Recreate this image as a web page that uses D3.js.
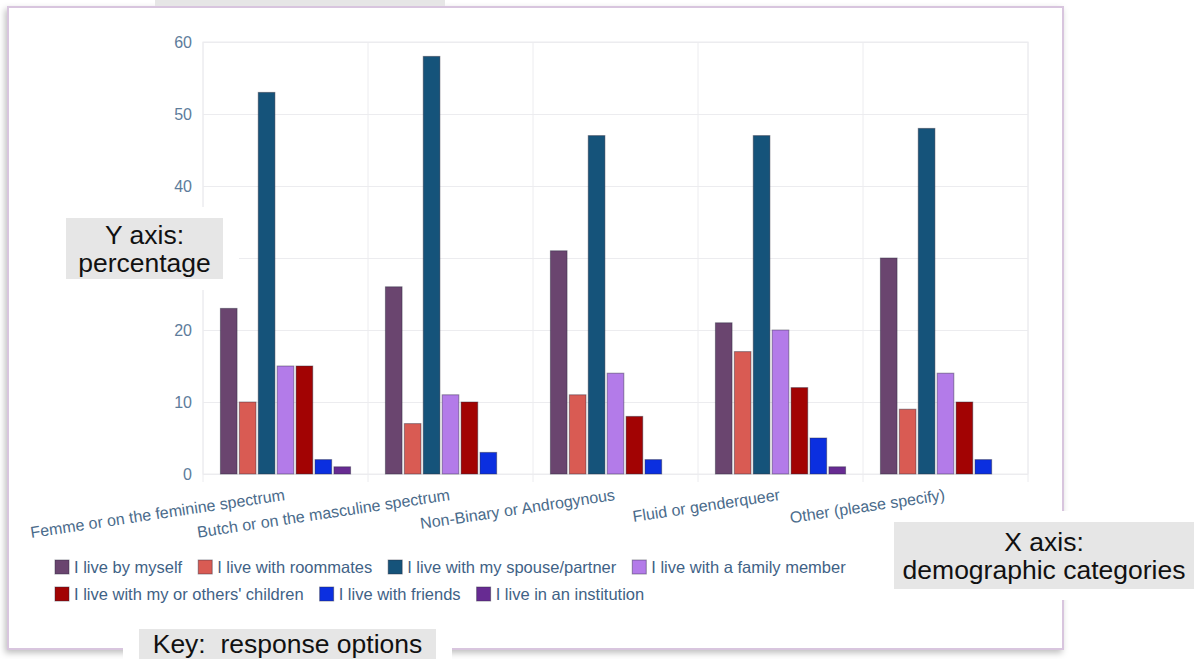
<!DOCTYPE html>
<html>
<head>
<meta charset="utf-8">
<script src="https://cdn.jsdelivr.net/npm/d3@7"></script>
<style>
  body { margin: 0; background: #fff; }
  svg { display: block; font-family: "Liberation Sans", Arial, Helvetica, sans-serif; }
  .grid line { stroke: #ececef; }
  .grid path { display: none; }
  .y.axis path { display: none; }
  .y.axis text { fill: #5d7c9b; font-size: 16px; }
  .xlabel { fill: #4a6b8b; font-size: 16px; }
  .legend text { fill: #3f6286; font-size: 16.5px; }
  .note text { fill: #111; font-size: 26.5px; white-space: pre; }
</style>
</head>
<body>
<div id="chart"></div>
<script>
// Living arrangements by gender identity, percent of respondents

var categories = ["Femme or on the feminine spectrum", "Butch or on the masculine spectrum",
                  "Non-Binary or Androgynous", "Fluid or genderqueer", "Other (please specify)"];

var seriesNames = ["I live by myself", "I live with roommates", "I live with my spouse/partner",
                   "I live with a family member", "I live with my or others' children",
                   "I live with friends", "I live in an institution"];

// one array per response option, in category order
var byMyself    = [23, 26, 31, 21, 30];
var roommates   = [10,  7, 11, 17,  9];
var spouse      = [53, 58, 47, 47, 48];
var family      = [15, 11, 14, 20, 14];
var children    = [15, 10,  8, 12, 10];
var friends     = [ 2,  3,  2,  5,  2];
var institution = [ 1,  0,  0,  1,  0];

var yTicks = [0, 10, 20, 30, 40, 50, 60];

var seriesValues = [byMyself, roommates, spouse, family, children, friends, institution];
var colors = ["#6a456f", "#d95b53", "#15537a", "#b37be9", "#a20303", "#0b2fe0", "#672b92"];

var width = 1194, height = 659;
var margin = {left: 203, right: 166, top: 42, bottom: 185};
var innerWidth = width - margin.left - margin.right;
var innerHeight = height - margin.top - margin.bottom;

var svg = d3.select("#chart").append("svg")
    .attr("width", width)
    .attr("height", height);

// shadow for the card
var defs = svg.append("defs");
var shadow = defs.append("filter").attr("id", "shadow")
    .attr("x", "-5%").attr("y", "-5%").attr("width", "110%").attr("height", "110%");
shadow.append("feDropShadow")
    .attr("dx", -2).attr("dy", 3).attr("stdDeviation", 3)
    .attr("flood-color", "#000").attr("flood-opacity", 0.25);

svg.append("rect")
    .attr("x", 8).attr("y", 7)
    .attr("width", 1055).attr("height", 642)
    .attr("fill", "#fff")
    .attr("stroke", "#d8c5de")
    .attr("stroke-width", 2)
    .attr("filter", "url(#shadow)");

// Scales
var x0 = d3.scaleBand()
    .domain(categories)
    .range([0, innerWidth])
    .padding(0);

var x1 = d3.scaleBand()
    .domain(d3.range(seriesNames.length))
    .range([0, x0.bandwidth()])
    .paddingInner(0.12)
    .paddingOuter(0.92);

var y = d3.scaleLinear()
    .domain([0, 60])
    .range([innerHeight, 0]);

var g = svg.append("g")
    .attr("transform", "translate(" + margin.left + "," + margin.top + ")");

// plot frame
g.append("rect")
    .attr("width", innerWidth).attr("height", innerHeight)
    .attr("fill", "none")
    .attr("stroke", "#ececef");

// horizontal gridlines
g.append("g").attr("class", "grid")
    .call(d3.axisLeft(y).tickValues(yTicks).tickSize(-innerWidth).tickFormat(""));

// vertical gridlines at band edges
var edges = categories.map(function (c) { return x0(c); }).concat([innerWidth]);
g.append("g").attr("class", "grid")
    .selectAll("line")
    .data(edges)
    .enter().append("line")
    .attr("x1", function (d) { return d; })
    .attr("x2", function (d) { return d; })
    .attr("y1", 0)
    .attr("y2", innerHeight + 8);

// y axis
g.append("g").attr("class", "y axis")
    .call(d3.axisLeft(y).tickValues(yTicks).tickSize(0).tickPadding(11));

// bars
var groups = g.selectAll(".cat")
    .data(categories)
    .enter().append("g")
    .attr("class", "cat")
    .attr("transform", function (d) { return "translate(" + x0(d) + ",0)"; });

groups.selectAll("rect")
    .data(function (d, i) {
        return seriesValues.map(function (vals, s) { return {s: s, v: vals[i]}; })
            .filter(function (b) { return b.v > 0; });
    })
    .enter().append("rect")
    .attr("x", function (d) { return x1(d.s); })
    .attr("width", x1.bandwidth())
    .attr("y", function (d) { return y(d.v); })
    .attr("height", function (d) { return innerHeight - y(d.v); })
    .attr("fill", function (d) { return colors[d.s]; })
    .attr("stroke", "rgba(40,40,60,0.45)")
    .attr("stroke-width", 1);

// slanted category labels, ending at band centre
g.selectAll(".xlabel")
    .data(categories)
    .enter().append("text")
    .attr("class", "xlabel")
    .attr("text-anchor", "end")
    .attr("transform", function (d) {
        return "translate(" + (x0(d) + x0.bandwidth() / 2) + "," + (innerHeight + 26) + ") rotate(-8.5)";
    })
    .text(function (d) { return d; });

// legend, flowing into rows
var legend = svg.append("g").attr("class", "legend");
var lx = 55, ly = 560, rowH = 27, maxX = 900;
seriesNames.forEach(function (name, i) {
    var item = legend.append("g");
    item.append("rect")
        .attr("width", 14).attr("height", 14)
        .attr("fill", colors[i])
        .attr("stroke", "rgba(40,40,60,0.45)");
    var t = item.append("text")
        .attr("x", 19).attr("y", 12.5)
        .text(name);
    var w = 19 + t.node().getComputedTextLength();
    if (lx + w > maxX) { lx = 55; ly += rowH; }
    item.attr("transform", "translate(" + lx + "," + ly + ")");
    lx += w + 16;
});

// annotation boxes laid over the screenshot
function note(x, y, w, h, lines, padX, padY) {
    var n = svg.append("g").attr("class", "note");
    n.append("rect")
        .attr("x", x - padX).attr("y", y - padY)
        .attr("width", w + 2 * padX).attr("height", h + 2 * padY)
        .attr("fill", "#fff");
    n.append("rect")
        .attr("x", x).attr("y", y)
        .attr("width", w).attr("height", h)
        .attr("fill", "#e6e6e6");
    var lh = 28;
    var top = y + h / 2 - (lines.length - 1) * lh / 2;
    lines.forEach(function (l, i) {
        n.append("text")
            .attr("x", x + w / 2)
            .attr("y", top + i * lh)
            .attr("dy", "0.35em")
            .attr("text-anchor", "middle")
            .text(l);
    });
}

note(66, 218, 157, 61, ["Y axis:", "percentage"], 16, 11);
note(894, 522, 300, 67, ["X axis:", "demographic categories"], 12, 11);
note(139, 629, 297, 30, ["Key:  response options"], 16, 11);

// box cut off at the top edge
svg.append("rect")
    .attr("x", 155).attr("y", 0)
    .attr("width", 290).attr("height", 6)
    .attr("fill", "#e6e6e6");
</script>
</body>
</html>
